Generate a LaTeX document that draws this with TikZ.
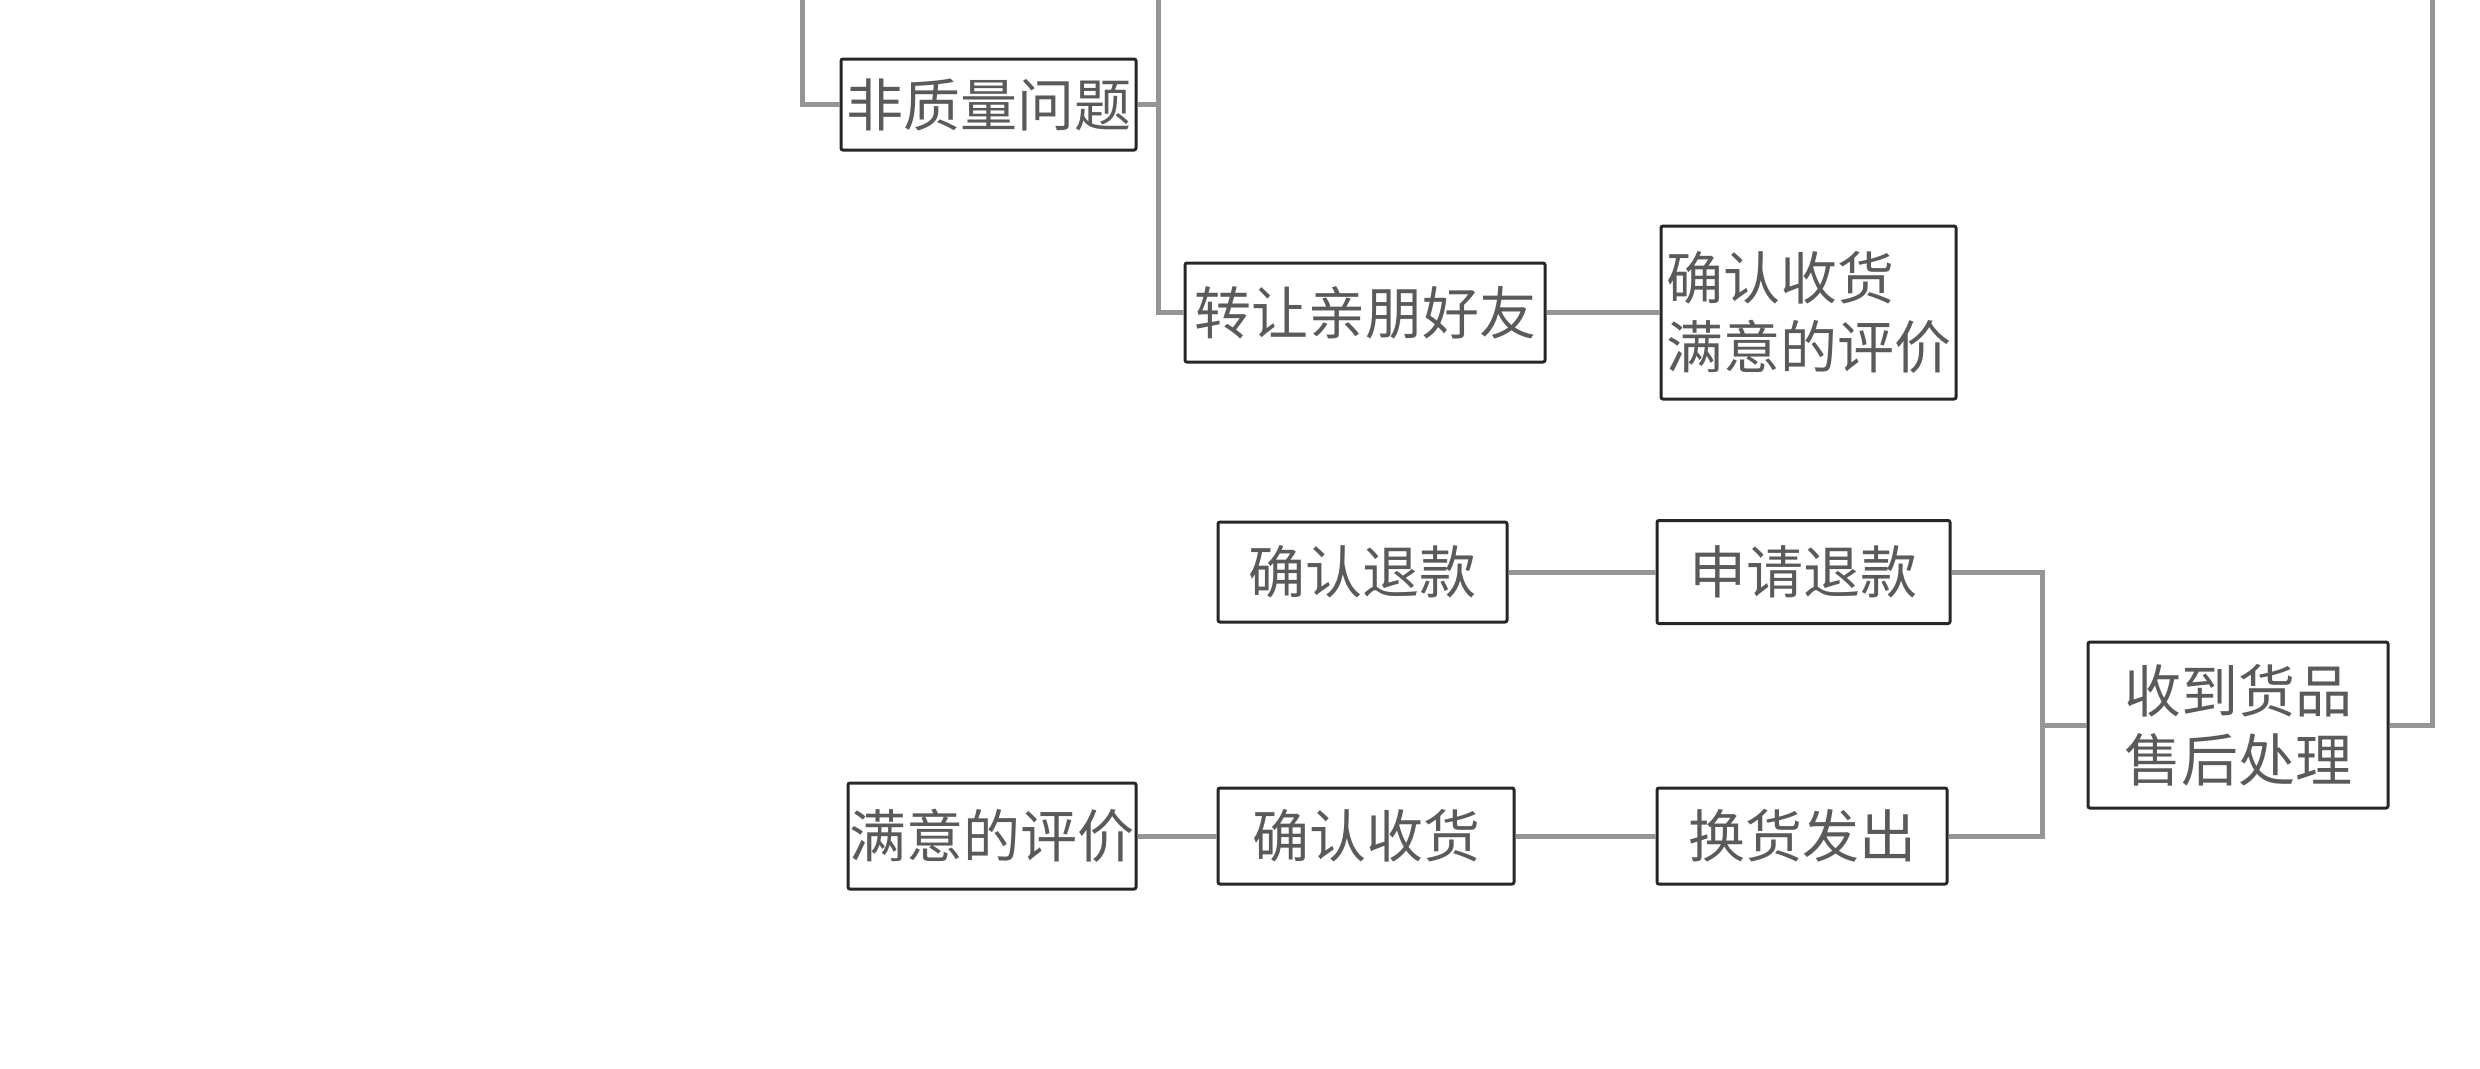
\documentclass[tikz,border=0pt]{standalone}
\usepackage{fontspec}
\setmainfont{Noto Sans CJK SC}
\definecolor{txt}{HTML}{5A5A5A}
\definecolor{lin}{HTML}{989494}
\begin{document}
\begin{tikzpicture}[x=1pt,y=-1pt,
  box/.style={draw=black!85, line width=3pt, rounded corners=2pt, inner sep=0pt,
    text=txt, font=\fontsize{57}{69}\selectfont, align=center},
  conn/.style={draw=lin, line width=5pt}]
\useasboundingbox[fill=white] (0,0) rectangle (2480,1068);
% nodes
\node[box, minimum width=295, minimum height=91] (nzl) at (988.5,104.5) {非质量问题};
\node[box, minimum width=360, minimum height=99] (zr) at (1365,312.5) {转让亲朋好友};
\node[box, minimum width=295, minimum height=173, align=left] (qrpj) at (1808.5,312.5) {确认收货\\满意的评价};
\node[box, minimum width=289, minimum height=100] (qrtk) at (1362.5,572) {确认退款};
\node[box, minimum width=293, minimum height=103] (sqtk) at (1803.5,572) {申请退款};
\node[box, minimum width=288, minimum height=106] (myp) at (992,836) {满意的评价};
\node[box, minimum width=296, minimum height=96] (qrsh) at (1366,836) {确认收货};
\node[box, minimum width=290, minimum height=96] (hh) at (1802,836) {换货发出};
\node[box, minimum width=300, minimum height=166] (sd) at (2238,725) {收到货品\\售后处理};
% coordinates
\coordinate (topL) at (802,0);
\coordinate (topM) at (1158,0);
\coordinate (topR) at (2432,0);
\coordinate (br) at (2042,725);
% connectors
\draw[conn] (topL) |- (nzl.west);
\draw[conn] (nzl.east) -- (nzl.east -| topM);
\draw[conn] (topM) |- (zr.west);
\draw[conn] (zr.east) -- (qrpj.west);
\draw[conn] (qrtk.east) -- (sqtk.west);
\draw[conn] (myp.east) -- (qrsh.west);
\draw[conn] (qrsh.east) -- (hh.west);
\draw[conn] (sqtk.east) -| (br) |- (hh.east);
\draw[conn] (br) -- (sd.west);
\draw[conn] (sd.east) -| (topR);
\end{tikzpicture}
\end{document}
